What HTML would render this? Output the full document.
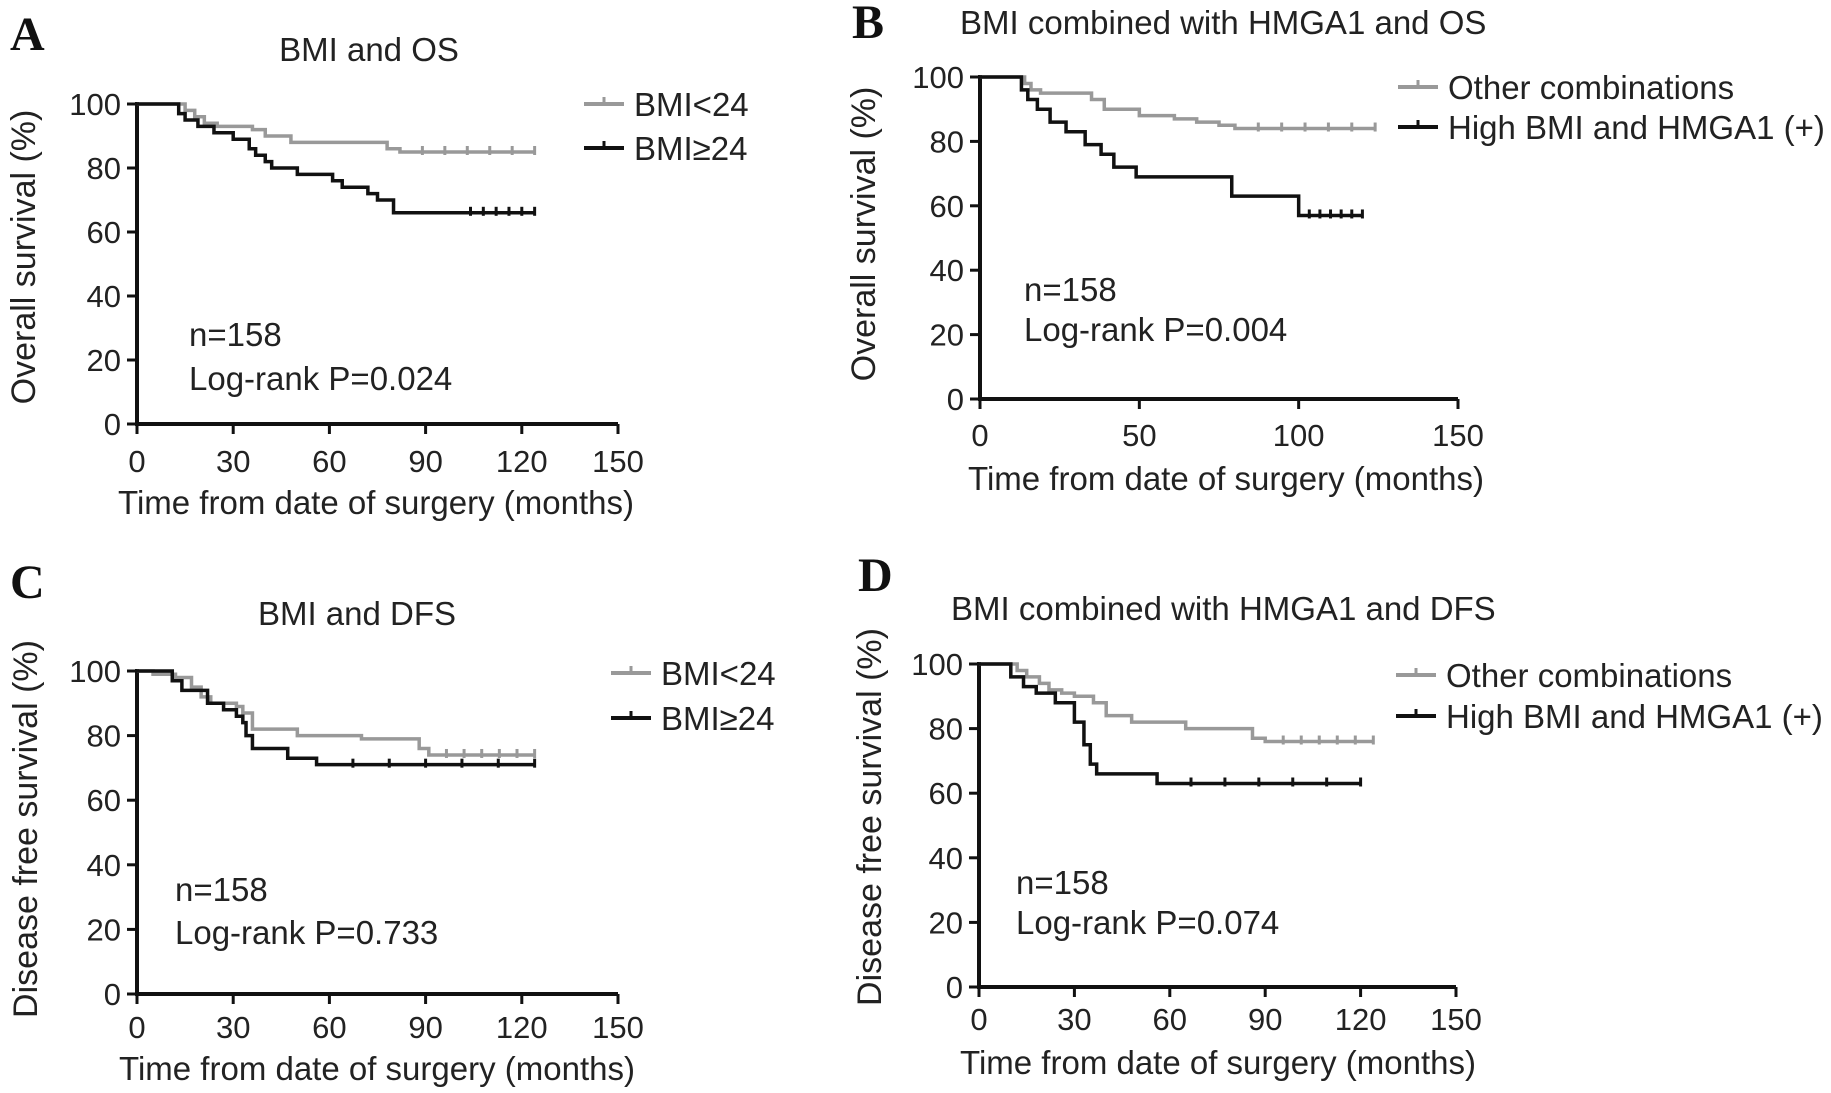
<!DOCTYPE html>
<html><head><meta charset="utf-8">
<style>
html,body{margin:0;padding:0;background:#fff;}
svg{display:block;font-family:"Liberation Sans",Arial,sans-serif;}
.tk{font-size:31px;fill:#222;}
.ttl{font-size:33px;fill:#222;}
.ytl{font-size:34px;fill:#222;}
.lg{font-size:33px;fill:#222;}
.let{font-family:"Liberation Serif",serif;font-weight:bold;font-size:48px;fill:#111;}
</style></head>
<body>
<svg id="fig" width="1831" height="1093" viewBox="0 0 1831 1093"></svg>
<script>
// Panel A data (BMI and OS)
const aGrayT=[0,15,18,21,25,36,40,48,78,82];
const aGrayS=[100,98,96,94,93,92,90,88,86,85];
const aBlackT=[0,13,15,19,24,30,35,37,40,42,50,61,64,72,75,80,100];
const aBlackS=[100,97,95,93,91,89,86,84,82,80,78,76,74,72,70,66,66];
// Panel B data
const bGrayT=[0,14,16,19,24,35,39,50,61,68,75,80];
const bGrayS=[100,98,96,95,95,93,90,88,87,86,85,84];
const bBlackT=[0,13,15,18,22,27,33,38,42,49,60,79,100];
const bBlackS=[100,96,93,90,86,83,79,76,72,69,69,63,57];
// Panel C data
const cGrayT=[0,5,12,17,20,23,31,33,36,50,70,88,91];
const cGrayS=[100,99,98,95,92,90,89,87,82,80,79,76,74];
const cBlackT=[0,11,14,22,27,31,33,34,36,47,56];
const cBlackS=[100,97,94,90,88,86,84,80,76,73,71];
// Panel D data
const dGrayT=[0,12,15,19,22,26,30,36,40,48,65,86,90];
const dGrayS=[100,98,96,94,92,91,90,88,84,82,80,77,76];
const dBlackT=[0,10,14,18,24,30,33,35,37,50,56];
const dBlackS=[100,96,93,91,88,82,75,69,66,66,63];
const xTicksA=[0,30,60,90,120,150];
const xTicksB=[0,50,100,150];
const yTicks=[0,20,40,60,80,100];
const NS='http://www.w3.org/2000/svg';
const svg=document.getElementById('fig');
function mk(tag,attrs,parent){const e=document.createElementNS(NS,tag);for(const k in attrs)e.setAttribute(k,attrs[k]);(parent||svg).appendChild(e);return e;}
function txt(x,y,s,cls,anchor,parent){const t=mk('text',{x:x,y:y,class:cls,'text-anchor':anchor||'start'},parent);t.textContent=s;return t;}

function panel(p){
  const g=mk('g',{});
  
  
  const X=v=>p.x0+(v/150)*(p.x1-p.x0);
  const Y=v=>p.y0+(v/100)*(p.y1-p.y0);
  const ax=mk('path',{d:`M${X(0)},${Y(100)-2}V${Y(0)}H${X(150)}`,stroke:'#111','stroke-width':4,fill:'none'},g);
  
  
  yTicks.forEach(v=>{
    mk('line',{x1:X(0)-10,x2:X(0),y1:Y(v),y2:Y(v),stroke:'#111','stroke-width':3},g);
    const t=txt(X(0)-16,Y(v)+11,String(v),'tk','end',g);
    
    
  });
  p.xt.forEach(v=>{
    mk('line',{x1:X(v),x2:X(v),y1:Y(0),y2:Y(0)+10,stroke:'#111','stroke-width':3},g);
    const t=txt(X(v),p.xtb,String(v),'tk','middle',g);
    
    
  });
  p.series.forEach(s=>{
    let d=`M${X(s.t[0])},${Y(s.s[0])}`;
    for(let i=1;i<s.t.length;i++){d+=`H${X(s.t[i])}V${Y(s.s[i])}`;}
    d+=`H${X(s.end)}`;
    const path=mk('path',{d:d,stroke:s.c,'stroke-width':3.5,fill:'none'},g);
    
    
    const last=s.s[s.s.length-1], st=s.t[s.t.length-1];
    for(let k=1;k<=6;k++){const tt=st+(s.end-st)*k/6;
      mk('line',{x1:X(tt),x2:X(tt),y1:Y(last)-6,y2:Y(last)+3,stroke:s.c,'stroke-width':3},g);}
  });
  p.series.forEach((s,i)=>{
    const ly=p.leg[1]+i*p.legdy;
    mk('line',{x1:p.leg[0]-50,x2:p.leg[0]-10,y1:ly,y2:ly,stroke:s.c,'stroke-width':4},g);
    mk('line',{x1:p.leg[0]-30,x2:p.leg[0]-30,y1:ly-7,y2:ly,stroke:s.c,'stroke-width':3},g);
    const t=txt(p.leg[0],ly+12,s.label,'lg','start',g);
    
    
  });
  const l=txt(p.letter[0],p.letter[1],p.L,'let','start',g);
  
  
  const tt=txt(p.title[0],p.title[1],p.tt,'ttl',p.title[2],g);
  
  
  const yl=txt(0,0,p.yl,'ytl','middle',g);
  yl.setAttribute('transform',`translate(${p.ylp[0]},${p.ylp[1]}) rotate(-90)`);
  
  
  const xl=txt(p.xlp[0],p.xlp[1],'Time from date of surgery (months)','ttl','middle',g);
  
  
  const n1=txt(p.nt[0],p.nt[1],'n=158','lg','start',g);
  
  
  const n2=txt(p.nt[0],p.nt[2],p.pv,'lg','start',g);
  
  
}
const G='#999', B='#111';
panel({name:'panel-a',L:'A',x0:137,x1:618,y0:424,y1:104,xt:xTicksA,xtb:472,
  series:[{t:aGrayT,s:aGrayS,end:124,c:G,n:'bmi-lt24-curve',label:'BMI<24'},{t:aBlackT,s:aBlackS,end:124,c:B,n:'bmi-ge24-curve',label:'BMI≥24'}],
  leg:[634,104],legdy:44,letter:[10,50],title:[369,61,'middle'],tt:'BMI and OS',yl:'Overall survival (%)',ylp:[35,257],xlp:[376,514],nt:[189,346,390],pv:'Log-rank P=0.024'});
panel({name:'panel-b',L:'B',x0:980,x1:1458,y0:399,y1:77,xt:xTicksB,xtb:446,
  series:[{t:bGrayT,s:bGrayS,end:124,c:G,n:'other-combinations-curve',label:'Other combinations'},{t:bBlackT,s:bBlackS,end:120,c:B,n:'high-bmi-hmga1-curve',label:'High BMI and HMGA1 (+)'}],
  leg:[1448,87],legdy:40,letter:[852,38],title:[960,34,'start'],tt:'BMI combined with HMGA1 and OS',yl:'Overall survival (%)',ylp:[875,234],xlp:[1226,490],nt:[1024,301,341],pv:'Log-rank P=0.004'});
panel({name:'panel-c',L:'C',x0:137,x1:618,y0:994,y1:671,xt:xTicksA,xtb:1038,
  series:[{t:cGrayT,s:cGrayS,end:124,c:G,n:'bmi-lt24-dfs-curve',label:'BMI<24'},{t:cBlackT,s:cBlackS,end:124,c:B,n:'bmi-ge24-dfs-curve',label:'BMI≥24'}],
  leg:[661,673],legdy:45,letter:[10,598],title:[357,625,'middle'],tt:'BMI and DFS',yl:'Disease free survival (%)',ylp:[37,829],xlp:[377,1080],nt:[175,901,944],pv:'Log-rank P=0.733'});
panel({name:'panel-d',L:'D',x0:979,x1:1456,y0:987,y1:664,xt:xTicksA,xtb:1030,
  series:[{t:dGrayT,s:dGrayS,end:124,c:G,n:'other-combinations-dfs-curve',label:'Other combinations'},{t:dBlackT,s:dBlackS,end:120,c:B,n:'high-bmi-hmga1-dfs-curve',label:'High BMI and HMGA1 (+)'}],
  leg:[1446,675],legdy:41,letter:[858,591],title:[951,620,'start'],tt:'BMI combined with HMGA1 and DFS',yl:'Disease free survival (%)',ylp:[881,817],xlp:[1218,1074],nt:[1016,894,934],pv:'Log-rank P=0.074'});
</script>
</body></html>
